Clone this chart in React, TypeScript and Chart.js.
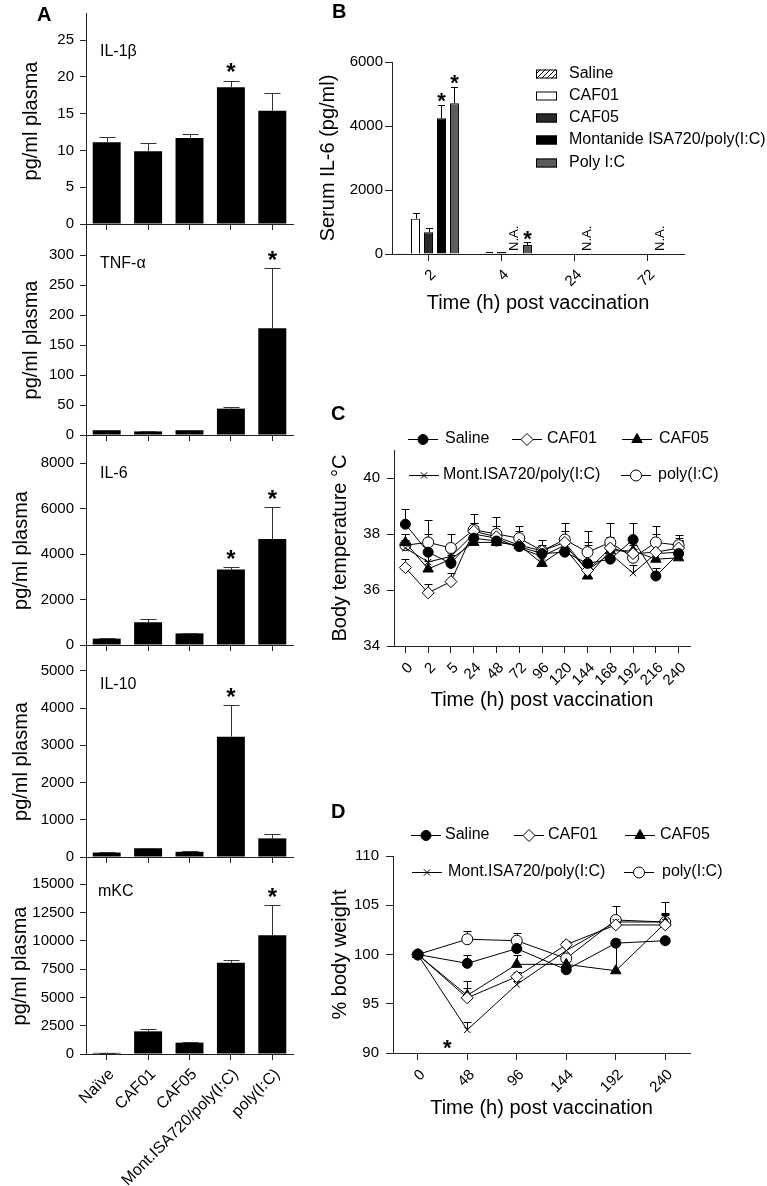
import React, { useEffect, useRef } from 'react';
import { Chart, registerables } from 'chart.js';
import { drawPoint } from 'chart.js/helpers';

Chart.register(...registerables);

const FONT = "'Liberation Sans', Arial, Helvetica, sans-serif";
Chart.defaults.font.family = FONT;
Chart.defaults.color = '#000';

// ---------------- Panel A data ----------------
const groupsA = ['Naïve', 'CAF01', 'CAF05', 'Mont.ISA720/poly(I:C)', 'poly(I:C)'];
const cytokines = ['IL-1β', 'TNF-α', 'IL-6', 'IL-10', 'mKC'];
const il1bValues = [11.1, 9.9, 11.7, 18.6, 15.4];
const il1bSem = [0.7, 1.1, 0.5, 0.9, 2.4];
const il1bStars = [false, false, false, true, false];
const il1bTicks = [0, 5, 10, 15, 20, 25];
const tnfValues = [8, 6, 8, 44, 178];
const tnfSem = [1, 0.5, 0.7, 3, 100];
const tnfStars = [false, false, false, false, true];
const tnfTicks = [0, 50, 100, 150, 200, 250, 300];
const il6Values = [280, 1000, 510, 3320, 4660];
const il6Sem = [30, 140, 25, 100, 1400];
const il6Stars = [false, false, false, true, true];
const il6Ticks = [0, 2000, 4000, 6000, 8000];
const il10Values = [120, 235, 140, 3230, 500];
const il10Sem = [10, 12, 10, 850, 110];
const il10Stars = [false, false, false, true, false];
const il10Ticks = [0, 1000, 2000, 3000, 4000, 5000];
const mkcValues = [100, 2000, 1000, 8060, 10480];
const mkcSem = [20, 170, 70, 230, 2660];
const mkcStars = [false, false, false, false, true];
const mkcTicks = [0, 2500, 5000, 7500, 10000, 12500, 15000];
const axisMaxA = [28, 317, 8310, 5130, 15540];

// ---------------- Panel B data ----------------
const timesB = ['2', '4', '24', '72'];
const seriesB = ['Saline', 'CAF01', 'CAF05', 'Montanide ISA720/poly(I:C)', 'Poly I:C'];
const salineB = [10, 0, 0, 0];
const salineBSem = [0, 0, 0, 0];
const caf01B = [1100, 40, 0, 0];
const caf01BSem = [180, 10, 0, 0];
const caf05B = [680, 60, 0, 0];
const caf05BSem = [120, 10, 0, 0];
const montB = [4240, null, null, null];
const montBSem = [420, 0, 0, 0];
const montBStars = [true, false, false, false];
const polyB = [4710, 280, 0, 0];
const polyBSem = [520, 85, 0, 0];
const polyBStars = [true, true, false, false];
const ticksB = [0, 2000, 4000, 6000];

// ---------------- Panel C data ----------------
const timesC = ['0', '2', '5', '24', '48', '72', '96', '120', '144', '168', '192', '216', '240'];
const seriesLines = ['Saline', 'CAF01', 'CAF05', 'Mont.ISA720/poly(I:C)', 'poly(I:C)'];
const salineT = [38.35, 37.35, 36.95, 37.85, 37.75, 37.55, 37.3, 37.35, 36.95, 37.1, 37.8, 36.5, 37.3];
const salineTSem = [0.55, 0.65, 0.3, 0.55, 0.3, 0.55, 0.2, 0.3, 0.75, 0.3, 0.6, 0.3, 0.5];
const caf01T = [36.8, 35.9, 36.3, 38.1, 37.9, 37.6, 37.4, 37.7, 36.7, 37.5, 37.3, 37.35, 37.5];
const caf01TSem = [0.3, 0.3, 0.3, 0.3, 0.4, 0.3, 0.2, 0.4, 0.3, 0.3, 0.3, 0.65, 0.35];
const caf05T = [37.7, 36.75, 37.1, 37.7, 37.7, 37.6, 36.95, 37.5, 36.5, 37.4, 37.4, 37.1, 37.15];
const caf05TSem = [0.3, 0.3, 0.3, 0.3, 0.3, 0.3, 0.3, 0.3, 0.3, 0.5, 0.3, 0.3, 0.6];
const montT = [37.5, 37.0, 37.2, 38.0, 37.85, 37.5, 37.2, 37.6, 36.7, 37.3, 36.6, 37.3, 37.35];
const montTSem = [0.3, 0.3, 0.3, 0.3, 0.3, 0.3, 0.3, 0.3, 0.9, 0.3, 0.3, 0.3, 0.4];
const polyT = [37.6, 37.7, 37.5, 38.15, 38.0, 37.85, 37.4, 37.8, 37.35, 37.7, 37.15, 37.7, 37.6];
const polyTSem = [0.4, 0.8, 0.5, 0.55, 0.6, 0.45, 0.4, 0.6, 0.75, 0.7, 0.3, 0.6, 0.35];
const ticksC = [34, 36, 38, 40];

// ---------------- Panel D data ----------------
const timesD = ['0', '48', '96', '144', '192', '240'];
const salineW = [100, 99.1, 100.6, 98.45, 101.15, 101.4];
const salineWSem = [0, 0.8, 0.5, 0.3, 0.4, 0.3];
const caf01W = [100, 95.6, 97.75, 101.0, 103.0, 103.0];
const caf01WSem = [0, 1.0, 0.5, 0.4, 0.8, 1.0];
const caf05W = [100, 95.85, 99.0, 99.0, 98.35, 103.2];
const caf05WSem = [0, 1.5, 1.0, 0.4, 2.9, 2.1];
const montW = [100, 92.35, 96.95, 100.4, 103.3, 103.3];
const montWSem = [0, 0.75, 0.4, 0.5, 0.5, 0.8];
const montWStars = [false, true, false, false, false, false];
const polyW = [100, 101.55, 101.4, 99.6, 103.5, 103.3];
const polyWSem = [0, 0.85, 0.8, 0.4, 1.45, 0.9];
const ticksD = [90, 95, 100, 105, 110];

// ---------------- helpers ----------------
const AX = '#222';

function paintErr(chart: any, o: any) {
  const { ctx } = chart;
  const ys = chart.scales.y;
  ctx.save();
  ctx.strokeStyle = o.color;
  ctx.lineWidth = 1;
  chart.data.datasets.forEach((ds: any, i: number) => {
    if (!ds.err) return;
    const meta = chart.getDatasetMeta(i);
    ds.data.forEach((v: any, j: number) => {
      const e = ds.err[j];
      if (v == null || !e) return;
      const el = meta.data[j];
      if (!el) return;
      const x = Math.round(el.x) + 0.5;
      const y0 = ys.getPixelForValue(v);
      const y1 = Math.round(ys.getPixelForValue(v + e)) + 0.5;
      ctx.beginPath();
      ctx.moveTo(x, y0);
      ctx.lineTo(x, y1);
      ctx.moveTo(x - o.cap / 2, y1);
      ctx.lineTo(x + o.cap / 2, y1);
      ctx.stroke();
    });
  });
  ctx.restore();
}

const errBars = {
  id: 'errbars',
  defaults: { cap: 8, color: '#000', before: false },
  beforeDatasetsDraw(chart: any, _a: any, o: any) {
    if (o.before) paintErr(chart, o);
  },
  afterDatasetsDraw(chart: any, _a: any, o: any) {
    if (!o.before) paintErr(chart, o);
  },
};

const starMarks = {
  id: 'starmarks',
  defaults: { offset: 14, size: 24 },
  afterDatasetsDraw(chart: any, _a: any, o: any) {
    const { ctx } = chart;
    const ys = chart.scales.y;
    ctx.save();
    ctx.fillStyle = '#000';
    ctx.font = `bold ${o.size}px ${FONT}`;
    ctx.textAlign = 'center';
    ctx.textBaseline = 'alphabetic';
    chart.data.datasets.forEach((ds: any, i: number) => {
      if (!ds.stars) return;
      const meta = chart.getDatasetMeta(i);
      ds.stars.forEach((s: boolean, j: number) => {
        if (!s) return;
        const v = ds.data[j];
        const e = ds.err ? ds.err[j] : 0;
        const el = meta.data[j];
        const cy = ys.getPixelForValue(v + e) - o.offset;
        ctx.fillText('*', el.x, cy + 0.57 * o.size);
      });
    });
    ctx.restore();
  },
};

const lowStars = {
  id: 'lowstars',
  afterDatasetsDraw(chart: any) {
    const { ctx } = chart;
    ctx.save();
    ctx.fillStyle = '#000';
    ctx.font = `bold 22px ${FONT}`;
    ctx.textAlign = 'center';
    chart.data.datasets.forEach((ds: any, i: number) => {
      if (!ds.lowStars) return;
      const meta = chart.getDatasetMeta(i);
      ds.lowStars.forEach((s: boolean, j: number) => {
        if (!s) return;
        const el = meta.data[j];
        ctx.fillText('*', el.x - 20, chart.chartArea.bottom - 11 + 0.57 * 22);
      });
    });
    ctx.restore();
  },
};

const naMarks = {
  id: 'namarks',
  afterDatasetsDraw(chart: any) {
    const { ctx } = chart;
    const xs = chart.scales.x;
    const n = chart.data.datasets.length;
    const cw = xs.getPixelForValue(1) - xs.getPixelForValue(0);
    ctx.save();
    ctx.fillStyle = '#000';
    ctx.font = `13px ${FONT}`;
    chart.data.datasets.forEach((ds: any, i: number) => {
      ds.data.forEach((v: any, j: number) => {
        if (v !== null) return;
        const slot = (cw * ds.categoryPercentage) / n;
        const x = xs.getPixelForValue(j) + (i - (n - 1) / 2) * slot;
        ctx.save();
        ctx.translate(x, chart.chartArea.bottom - 3);
        ctx.rotate(-Math.PI / 2);
        ctx.textAlign = 'left';
        ctx.textBaseline = 'middle';
        ctx.fillText('N.A.', 0, 0);
        ctx.restore();
      });
    });
    ctx.restore();
  },
};

function makeBarLegend(items: { ds: number; x: number; y: number; tx: number }[]) {
  return {
    id: 'barlegend',
    afterDraw(chart: any) {
      const { ctx } = chart;
      items.forEach((it) => {
        const ds = chart.data.datasets[it.ds];
        ctx.save();
        ctx.fillStyle = ds.backgroundColor;
        ctx.fillRect(it.x, it.y - 4.5, 21, 9);
        ctx.strokeStyle = '#000';
        ctx.lineWidth = 1;
        ctx.strokeRect(it.x + 0.5, it.y - 4.5 + 0.5, 20, 8);
        ctx.fillStyle = '#000';
        ctx.font = `16px ${FONT}`;
        ctx.textAlign = 'left';
        ctx.textBaseline = 'middle';
        ctx.fillText(ds.label, it.tx, it.y);
        ctx.restore();
      });
    },
  };
}

function makeLineLegend(items: { ds: number; x: number; y: number; tx: number }[]) {
  return {
    id: 'linelegend',
    afterDraw(chart: any) {
      const { ctx } = chart;
      items.forEach((it) => {
        const ds = chart.data.datasets[it.ds];
        ctx.save();
        ctx.strokeStyle = '#000';
        ctx.lineWidth = 1;
        ctx.beginPath();
        ctx.moveTo(it.x - 15, it.y + 0.5);
        ctx.lineTo(it.x + 15, it.y + 0.5);
        ctx.stroke();
        ctx.fillStyle = ds.pointBackgroundColor;
        ctx.strokeStyle = '#000';
        drawPoint(ctx, { pointStyle: ds.pointStyle, rotation: 0, radius: ds.pointRadius, borderWidth: 1 } as any, it.x, it.y + 0.5);
        ctx.fillStyle = '#000';
        ctx.font = `16px ${FONT}`;
        ctx.textAlign = 'left';
        ctx.textBaseline = 'middle';
        ctx.fillText(ds.label, it.tx, it.y);
        ctx.restore();
      });
    },
  };
}

function yAxis(o: any) {
  return {
    min: o.min,
    max: o.max,
    grid: { display: true, drawOnChartArea: false, drawTicks: true, tickLength: o.tl ?? 6, color: AX },
    border: { display: true, color: AX, width: 1 },
    ticks: { font: { size: 15 }, color: '#000', padding: o.pad ?? 6, callback: (v: any) => String(v) },
    afterBuildTicks: (s: any) => {
      s.ticks = o.ticks.map((v: number) => ({ value: v }));
    },
    afterFit: (s: any) => {
      s.width = o.width;
    },
    title: { display: true, text: o.title, font: { size: 20 }, color: '#000', padding: { top: o.tpad, bottom: 0 } },
  };
}

function xAxis(o: any) {
  return {
    offset: true,
    grid: { display: true, drawOnChartArea: false, offset: false, tickLength: o.tl ?? 6, color: AX },
    border: { display: true, color: AX, width: 1 },
    ticks: {
      display: o.labels !== false,
      autoSkip: false,
      minRotation: 45,
      maxRotation: 45,
      font: { size: o.fs ?? 15 },
      color: '#000',
      padding: o.pad ?? 6,
      labelOffset: 5,
    },
    afterFit: (s: any) => {
      s.height = o.height;
    },
    title: o.title
      ? { display: true, text: o.title, font: { size: 20 }, color: '#000', padding: { top: 0, bottom: o.tpad } }
      : { display: false },
  };
}

function ChartCanvas({ x, y, w, h, make }: { x: number; y: number; w: number; h: number; make: () => any }) {
  const ref = useRef<HTMLCanvasElement>(null);
  useEffect(() => {
    const chart = new Chart(ref.current as HTMLCanvasElement, make());
    return () => chart.destroy();
  }, []);
  return (
    <canvas
      ref={ref}
      width={w}
      height={h}
      style={{ position: 'absolute', left: x, top: y, width: w, height: h }}
    />
  );
}

// ---------------- Panel A ----------------
const panelAData = [
  { v: il1bValues, e: il1bSem, s: il1bStars, t: il1bTicks },
  { v: tnfValues, e: tnfSem, s: tnfStars, t: tnfTicks },
  { v: il6Values, e: il6Sem, s: il6Stars, t: il6Ticks },
  { v: il10Values, e: il10Sem, s: il10Stars, t: il10Ticks },
  { v: mkcValues, e: mkcSem, s: mkcStars, t: mkcTicks },
];
const areasA = [
  [13, 224],
  [240, 435],
  [451, 645],
  [661, 857],
  [873, 1054],
];
const titlePadA = [19.5, 19.5, 9, 9, 8];

function makeA(k: number) {
  const d = panelAData[k];
  const last = k === 4;
  return () => ({
    type: 'bar',
    data: {
      labels: groupsA,
      datasets: [
        {
          data: d.v,
          err: d.e,
          stars: d.s,
          backgroundColor: '#000',
          borderWidth: 0,
          barPercentage: 0.675,
          categoryPercentage: 1,
        },
      ],
    },
    options: {
      responsive: false,
      animation: false,
      events: [],
      layout: { padding: { top: 10, right: 7, left: 0, bottom: 0 } },
      plugins: {
        legend: { display: false },
        tooltip: { enabled: false },
        errbars: { cap: 16, color: '#333' },
        starmarks: { offset: 14, size: 24 },
      },
      scales: {
        x: xAxis({ labels: last, height: last ? 132 : 16, fs: 16, pad: 5 }),
        y: yAxis({ min: 0, max: axisMaxA[k], ticks: d.t, width: 86, title: 'pg/ml plasma', tpad: titlePadA[k] }),
      },
    },
    plugins: [errBars, starMarks],
  });
}

// ---------------- Panel B ----------------
function makeHatch() {
  const c = document.createElement('canvas');
  c.width = 5;
  c.height = 5;
  const g = c.getContext('2d') as CanvasRenderingContext2D;
  g.fillStyle = '#fff';
  g.fillRect(0, 0, 5, 5);
  g.strokeStyle = '#000';
  g.lineWidth = 1;
  g.beginPath();
  g.moveTo(0, 5);
  g.lineTo(5, 0);
  g.stroke();
  return g.createPattern(c, 'repeat');
}

function makeB() {
  const hatch = makeHatch();
  const common = { borderColor: '#000', borderWidth: 1, barPercentage: 0.69, categoryPercentage: 0.89 };
  return {
    type: 'bar',
    data: {
      labels: timesB,
      datasets: [
        { label: seriesB[0], data: salineB, err: salineBSem, backgroundColor: hatch, ...common },
        { label: seriesB[1], data: caf01B, err: caf01BSem, backgroundColor: '#fff', ...common },
        { label: seriesB[2], data: caf05B, err: caf05BSem, backgroundColor: '#2a2a2a', ...common },
        { label: seriesB[3], data: montB, err: montBSem, stars: montBStars, backgroundColor: '#000', ...common },
        { label: seriesB[4], data: polyB, err: polyBSem, stars: polyBStars, backgroundColor: '#5c5c5c', ...common },
      ],
    },
    options: {
      responsive: false,
      animation: false,
      events: [],
      layout: { padding: { top: 62, right: 83, left: 0, bottom: 0 } },
      plugins: {
        legend: { display: false },
        tooltip: { enabled: false },
        errbars: { cap: 7, color: '#000' },
        starmarks: { offset: 9, size: 22 },
      },
      scales: {
        x: xAxis({ height: 66, fs: 15, pad: 5, tl: 7, title: 'Time (h) post vaccination', tpad: 5 }),
        y: yAxis({ min: 0, max: 6000, ticks: ticksB, width: 92, title: 'Serum IL-6 (pg/ml)', tpad: 16, tl: 7, pad: 2 }),
      },
    },
    plugins: [
      errBars,
      starMarks,
      naMarks,
      makeBarLegend([
        { ds: 0, x: 236, y: 74, tx: 269 },
        { ds: 1, x: 236, y: 96, tx: 269 },
        { ds: 2, x: 236, y: 118, tx: 269 },
        { ds: 3, x: 236, y: 140, tx: 269 },
        { ds: 4, x: 236, y: 163, tx: 269 },
      ]),
    ],
  };
}

// ---------------- Panels C & D ----------------
function lineDatasets(vals: any[], errs: any[], extra: any[]) {
  const styles = [
    { pointStyle: 'circle', pointRadius: 5, pointBackgroundColor: '#000' },
    { pointStyle: 'rectRot', pointRadius: 6, pointBackgroundColor: '#fff' },
    { pointStyle: 'triangle', pointRadius: 6, pointBackgroundColor: '#000' },
    { pointStyle: 'crossRot', pointRadius: 4.5, pointBackgroundColor: '#000' },
    { pointStyle: 'circle', pointRadius: 5.5, pointBackgroundColor: '#fff' },
  ];
  return vals.map((v, i) => ({
    label: seriesLines[i],
    data: v,
    err: errs[i],
    ...(extra[i] || {}),
    borderColor: '#000',
    borderWidth: 1,
    pointBorderColor: '#000',
    pointBorderWidth: 1,
    tension: 0,
    fill: false,
    ...styles[i],
  }));
}

function makeC() {
  return {
    type: 'line',
    data: {
      labels: timesC,
      datasets: lineDatasets(
        [salineT, caf01T, caf05T, montT, polyT],
        [salineTSem, caf01TSem, caf05TSem, montTSem, polyTSem],
        []
      ),
    },
    options: {
      responsive: false,
      animation: false,
      events: [],
      layout: { padding: { top: 70, right: 77, left: 0, bottom: 0 } },
      plugins: {
        legend: { display: false },
        tooltip: { enabled: false },
        errbars: { cap: 8, color: '#000', before: true },
      },
      scales: {
        x: xAxis({ height: 74, fs: 15, pad: 6, tl: 7, title: 'Time (h) post vaccination', tpad: 8 }),
        y: yAxis({ min: 34, max: 41, ticks: ticksC, width: 94, title: 'Body temperature °C', tpad: 28, tl: 7, pad: 7 }),
      },
    },
    plugins: [
      errBars,
      makeLineLegend([
        { ds: 0, x: 123, y: 59, tx: 145 },
        { ds: 1, x: 227, y: 59, tx: 247 },
        { ds: 2, x: 337, y: 59, tx: 359 },
        { ds: 3, x: 124, y: 95, tx: 143 },
        { ds: 4, x: 336, y: 95, tx: 358 },
      ]),
    ],
  };
}

function makeD() {
  return {
    type: 'line',
    data: {
      labels: timesD,
      datasets: lineDatasets(
        [salineW, caf01W, caf05W, montW, polyW],
        [salineWSem, caf01WSem, caf05WSem, montWSem, polyWSem],
        [null, null, null, { lowStars: montWStars }, null]
      ),
    },
    options: {
      responsive: false,
      animation: false,
      events: [],
      layout: { padding: { top: 76, right: 77, left: 0, bottom: 0 } },
      plugins: {
        legend: { display: false },
        tooltip: { enabled: false },
        errbars: { cap: 8, color: '#000', before: true },
      },
      scales: {
        x: xAxis({ height: 133, fs: 15, pad: 6, tl: 7, title: 'Time (h) post vaccination', tpad: 66 }),
        y: yAxis({ min: 90, max: 110, ticks: ticksD, width: 93, title: '% body weight', tpad: 28, tl: 7, pad: 7 }),
      },
    },
    plugins: [
      errBars,
      lowStars,
      makeLineLegend([
        { ds: 0, x: 126, y: 55, tx: 145 },
        { ds: 1, x: 229, y: 55, tx: 248 },
        { ds: 2, x: 340, y: 55, tx: 360 },
        { ds: 3, x: 127, y: 92, tx: 148 },
        { ds: 4, x: 339, y: 92, tx: 362 },
      ]),
    ],
  };
}

const letterStyle: any = { position: 'absolute', font: `bold 20px ${FONT}`, lineHeight: '20px', color: '#000' };
const labelStyle: any = { position: 'absolute', font: `16px ${FONT}`, lineHeight: '16px', color: '#000' };
const cytokineTops = [43, 255, 465, 676, 883];

export default function App() {
  return (
    <div style={{ position: 'absolute', left: 0, top: 0, width: 767, height: 1186, background: '#fff', fontFamily: FONT }}>
      {areasA.map((a, k) => {
        const xH = k === 4 ? 132 : 16;
        return <ChartCanvas key={k} x={0} y={a[0] - 10} w={300} h={a[1] - a[0] + 10 + xH} make={makeA(k)} />;
      })}
      <div style={{ position: 'absolute', left: 86, top: 13, width: 1, height: 1041, background: AX }} />
      {cytokines.map((c, k) => (
        <div key={c} style={{ ...labelStyle, left: k === 4 ? 98 : 100, top: cytokineTops[k] }}>
          {c}
        </div>
      ))}
      <ChartCanvas x={300} y={0} w={467} h={320} make={makeB} />
      <ChartCanvas x={300} y={380} w={467} h={340} make={makeC} />
      <ChartCanvas x={300} y={780} w={467} h={406} make={makeD} />
      <div style={{ ...letterStyle, left: 37, top: 4 }}>A</div>
      <div style={{ ...letterStyle, left: 332, top: 1 }}>B</div>
      <div style={{ ...letterStyle, left: 331, top: 403 }}>C</div>
      <div style={{ ...letterStyle, left: 331, top: 801 }}>D</div>
    </div>
  );
}
